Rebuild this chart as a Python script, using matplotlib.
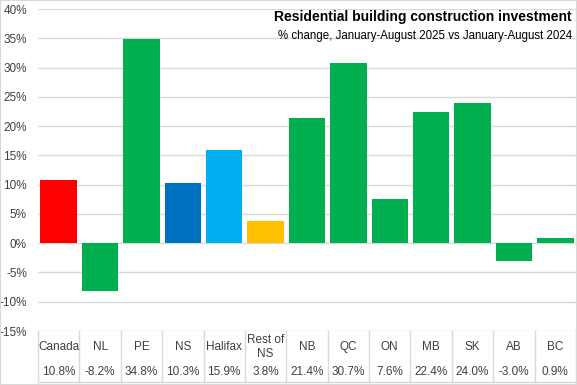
import numpy as np
import matplotlib.pyplot as plt
from matplotlib.patches import Rectangle

categories = ["Canada", "NL", "PE", "NS", "Halifax", "Rest of\nNS", "NB", "QC",
              "ON", "MB", "SK", "AB", "BC"]
values = [10.8, -8.2, 34.8, 10.3, 15.9, 3.8, 21.4, 30.7, 7.6, 22.4, 24.0, -3.0, 0.9]
value_labels = ["10.8%", "-8.2%", "34.8%", "10.3%", "15.9%", "3.8%", "21.4%",
                "30.7%", "7.6%", "22.4%", "24.0%", "-3.0%", "0.9%"]
colors = ["#FF0000", "#00B050", "#00B050", "#0070C0", "#00B0F0", "#FFC000",
          "#00B050", "#00B050", "#00B050", "#00B050", "#00B050", "#00B050", "#00B050"]

plt.rcParams['font.family'] = ['Liberation Sans', 'DejaVu Sans']

W, H = 577, 385
fig = plt.figure(figsize=(W / 100, H / 100), dpi=100)
ax = fig.add_axes([38 / W, 1 - 331 / H, (576 - 38) / W, (331 - 9) / H])

x = np.arange(len(categories))
ax.bar(x, values, width=0.88, color=colors, zorder=3)

ax.set_xlim(-0.5, len(categories) - 0.5)
ax.set_ylim(-15, 40)
yt = np.arange(-15, 41, 5)
ax.set_yticks(yt)
ax.set_yticklabels([f"{v}%" for v in yt], fontsize=8.5, color="#404040")
ax.tick_params(axis="y", length=0, pad=8)
ax.set_xticks([])
ax.grid(axis="y", color="#D9D9D9", linewidth=1, zorder=0)
for s in ax.spines.values():
    s.set_visible(False)

# table below the axes
grid_col = "#D9D9D9"
trans = ax.get_xaxis_transform()
y_bot = -(382 - 331) / (331 - 9)
y_cat = -(347 - 331) / (331 - 9)
y_val = -(372 - 331) / (331 - 9)
for b in np.arange(-0.5, len(categories), 1.0):
    ax.plot([b, b], [0, y_bot], color=grid_col, lw=1, transform=trans, clip_on=False)
ax.plot([-0.5, len(categories) - 0.5], [y_bot, y_bot], color=grid_col, lw=1,
        transform=trans, clip_on=False)
for i, (c, v) in enumerate(zip(categories, value_labels)):
    ax.text(i, y_cat, c, transform=trans, ha="center", va="center", fontsize=8.5,
            color="#404040", linespacing=1.2)
    ax.text(i, y_val, v, transform=trans, ha="center", va="center", fontsize=8.5,
            color="#404040")

fig.text(572 / W, 1 - 17 / H, "Residential building construction investment",
         ha="right", va="center", fontsize=10, fontweight="bold", color="black")
fig.text(572 / W, 1 - 36 / H, "% change, January-August 2025 vs January-August 2024",
         ha="right", va="center", fontsize=8.3, color="black")

fig.patches.append(Rectangle((0, 0), 1, 1, transform=fig.transFigure, fill=False,
                             edgecolor="#D9D9D9", lw=1.5))

fig.savefig("out.png", dpi=100)
